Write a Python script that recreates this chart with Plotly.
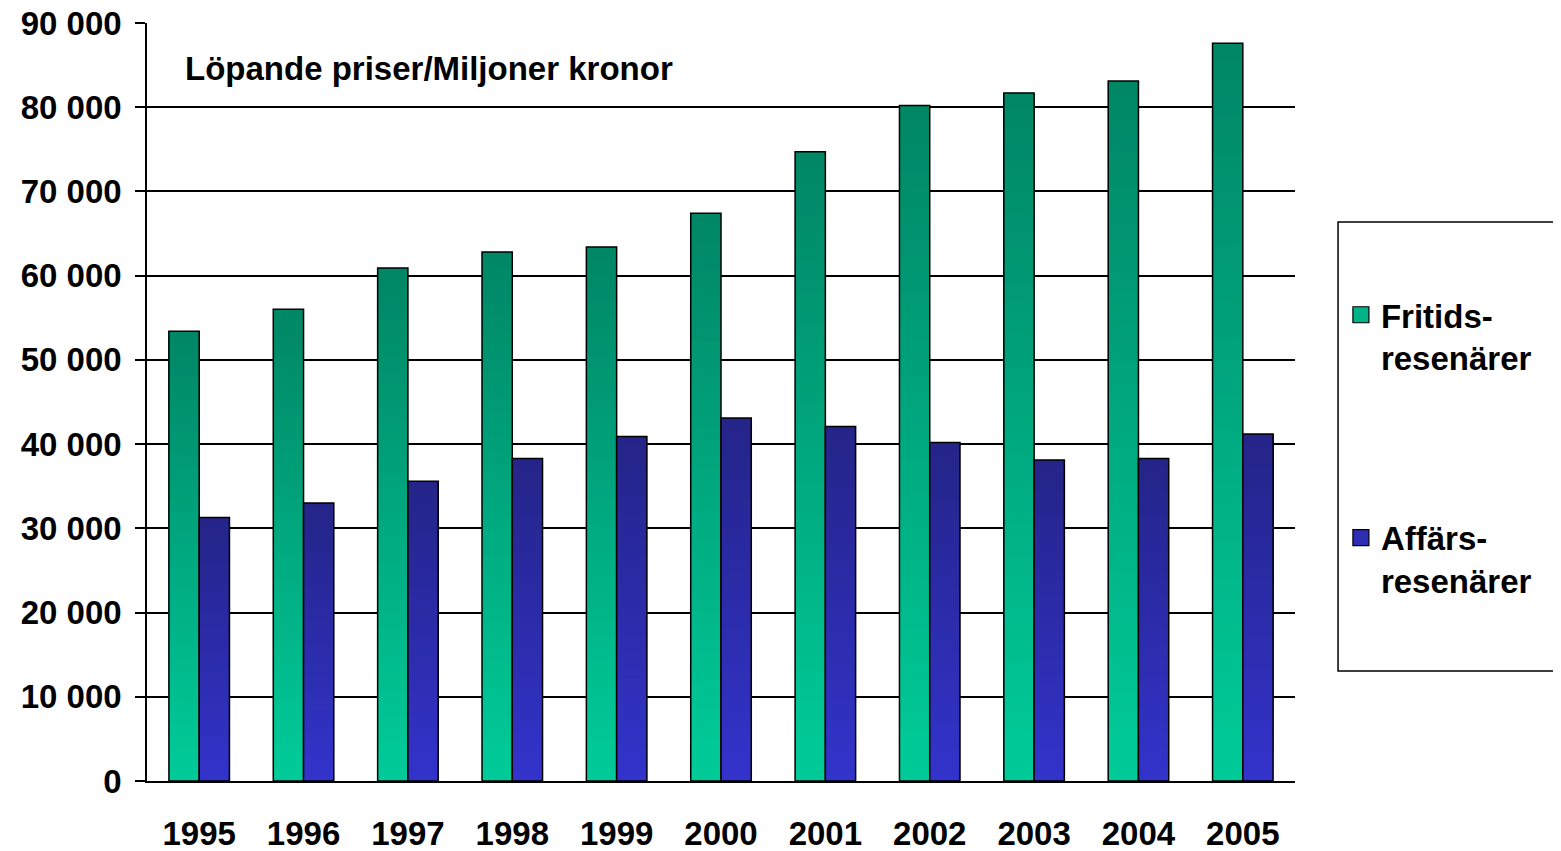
import plotly.graph_objects as go

years = ["1995", "1996", "1997", "1998", "1999", "2000", "2001", "2002", "2003", "2004", "2005"]
fritid = [53400, 56000, 60900, 62800, 63400, 67400, 74700, 80200, 81700, 83100, 87600]
affar = [31300, 33000, 35600, 38300, 40900, 43100, 42100, 40200, 38100, 38300, 41200]

names = ["Fritids-<br>resenärer", "Affärs-<br>resenärer"]
bottom_cols = [(0, 204, 153), (51, 51, 204)]
top_cols = [(0, 134, 101), (36, 36, 136)]

N = 40
bw = 0.29
FONT = "Liberation Sans, Arial, sans-serif"


def mix(c0, c1, t):
    return "rgb(%d,%d,%d)" % tuple(round(a + (b - a) * t) for a, b in zip(c0, c1))


fig = go.Figure()

for s, vals in enumerate([fritid, affar]):
    off = -bw if s == 0 else 0
    # gradient: stacked overlapping slices, each from its base up to the bar top
    for k in range(N):
        base = [v * k / N for v in vals]
        fig.add_trace(go.Bar(
            x=years, y=[v - b for v, b in zip(vals, base)], base=base,
            offset=off, width=bw,
            marker=dict(color=mix(bottom_cols[s], top_cols[s], (k + 0.5) / N), line=dict(width=0)),
            showlegend=False, hoverinfo="skip",
        ))
    fig.add_trace(go.Bar(
        x=years, y=vals, offset=off, width=bw,
        marker=dict(color="rgba(0,0,0,0)", line=dict(color="black", width=1.5)),
        showlegend=False, name=names[s].replace("<br>", ""),
    ))
    # legend entry
    fig.add_trace(go.Scatter(
        x=[None], y=[None], mode="markers", name=names[s], legendgroup=str(s),
        marker=dict(symbol="square", size=16, color=mix(bottom_cols[s], top_cols[s], 0.35),
                    line=dict(color="black", width=1.2)),
    ))

fig.add_shape(type="rect", xref="paper", yref="paper",
              x0=1.0375, x1=1.25, y0=0.145, y1=0.7375,
              line=dict(color="black", width=1.5))

fig.add_annotation(text="<b>Löpande priser/Miljoner kronor</b>", xref="paper", yref="paper",
                   x=0.0315, y=0.94, xanchor="left", yanchor="middle", showarrow=False,
                   font=dict(size=33, color="black", family=FONT))

fig.update_layout(
    width=1561, height=851,
    margin=dict(l=139, r=274, t=15, b=78),
    barmode="overlay",
    plot_bgcolor="white", paper_bgcolor="white",
    separators=", ",
    font=dict(family=FONT, size=33, color="black"),
    showlegend=True,
    legend=dict(x=1.04, y=0.652, xanchor="left", yanchor="top",
                font=dict(size=33, family=FONT, weight="bold"), valign="top",
                tracegroupgap=134, bgcolor="rgba(0,0,0,0)", borderwidth=0),
    xaxis=dict(type="category", showline=True, linecolor="black", linewidth=1.5,
               ticks="", showgrid=False, ticklabelstandoff=23, automargin=False,
               ticklabeloverflow="allow",
               tickfont=dict(size=33, family=FONT, weight="bold")),
    yaxis=dict(range=[0, 90000], dtick=10000, tickformat=",d",
               showline=True, linecolor="black", linewidth=1.5,
               ticks="outside", ticklen=10, tickcolor="black", tickwidth=1.5,
               showgrid=True, gridcolor="black", gridwidth=1.5, zeroline=False,
               ticklabelstandoff=7, automargin=False, ticklabeloverflow="allow",
               tickfont=dict(size=33, family=FONT, weight="bold")),
)

fig.write_html("out.html")
